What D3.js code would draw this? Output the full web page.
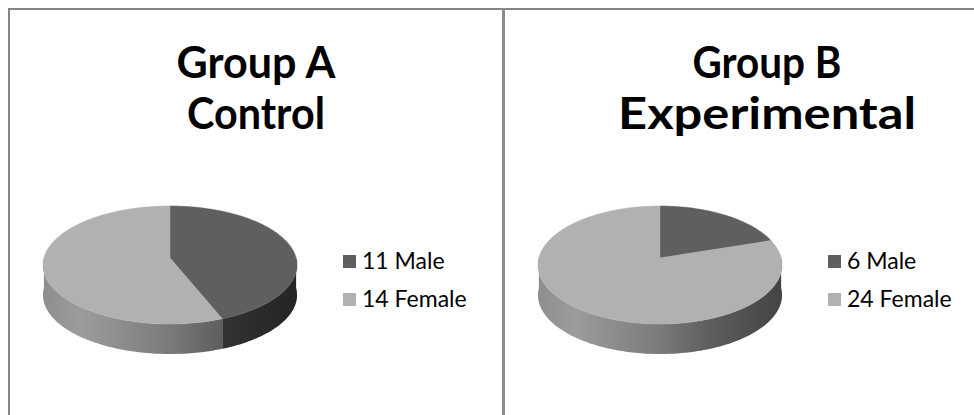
<!DOCTYPE html>
<html>
<head>
<meta charset="utf-8">
<script src="https://cdn.jsdelivr.net/npm/d3@7"></script>
<style>
  body { margin: 0; background: #fff; }
  text { font-family: Lato, "Open Sans", sans-serif; }
</style>
</head>
<body>
<svg id="chart" width="974" height="415"></svg>
<script>
const groupNames = ["Group A", "Group B"];
const groupTypes = ["Control", "Experimental"];
const categories = ["Male", "Female"];
const groupA = [11, 14];
const groupB = [6, 24];
const sliceColors = ["#5f5f5f", "#b1b1b1"];

const svg = d3.select("#chart");

// panel layout
const panels = [
    { values: groupA, titleX: 256, titleW: [159, 138], cx: 170, cy: 265, rx: 127, ry: 59, legendX: 343 },
    { values: groupB, titleX: 767, titleW: [149, 298], cx: 660, cy: 265, rx: 122, ry: 59, legendX: 828 }
];
const depth = 30;
const tilt = -0.12;

// cell borders
svg.append("rect").attr("x", 8).attr("y", 8).attr("width", 974).attr("height", 2).attr("fill", "#858585");
svg.append("rect").attr("x", 8).attr("y", 8).attr("width", 2).attr("height", 415).attr("fill", "#858585");
svg.append("rect").attr("x", 502).attr("y", 8).attr("width", 3).attr("height", 415).attr("fill", "#8c8c8c");

const color = d3.scaleOrdinal().domain(categories).range(sliceColors);
const pie = d3.pie().sort(null).startAngle(0).endAngle(2 * Math.PI);

// perspective-ish projection of a disc point (radius r, angle t clockwise from top)
const project = (p, r, t, dy) => {
    const u = r * Math.sin(t), v = -r * Math.cos(t);
    const d = 1 + tilt * v;
    return [
        p.cx + p.rx * u * Math.sqrt(1 - tilt * tilt) / d,
        p.cy + p.ry * (v + tilt) / d + dy
    ];
};

const rim = (p, a0, a1, dy) => {
    const n = Math.max(2, Math.ceil(Math.abs(a1 - a0) / 0.02));
    return d3.range(n + 1).map((i) => project(p, 1, a0 + (a1 - a0) * i / n, dy));
};

const line = d3.line();
const defs = svg.append("defs");

panels.forEach((p, gi) => {
    const g = svg.append("g");

    // title, two lines
    [groupNames[gi], groupTypes[gi]].forEach((t, li) => {
        g.append("text")
            .attr("x", p.titleX)
            .attr("y", 78 + li * 51)
            .attr("text-anchor", "middle")
            .attr("textLength", p.titleW[li])
            .attr("lengthAdjust", "spacingAndGlyphs")
            .style("font-weight", "bold")
            .style("font-size", "44px")
            .attr("fill", "#000")
            .text(t);
    });

    const arcs = pie(p.values);

    // side shading
    const gradId = "shade" + gi;
    const grad = defs.append("linearGradient")
        .attr("id", gradId)
        .attr("gradientUnits", "userSpaceOnUse")
        .attr("x1", p.cx - p.rx).attr("x2", p.cx + p.rx)
        .attr("y1", 0).attr("y2", 0);
    [[0, 0.2], [0.15, 0.12], [0.5, 0.31], [0.7, 0.47], [1, 0.62]].forEach((s) => {
        grad.append("stop").attr("offset", s[0]).attr("stop-color", "#000").attr("stop-opacity", s[1]);
    });

    // visible sides (front half only)
    arcs.forEach((a, i) => {
        const s = Math.max(a.startAngle, Math.PI / 2);
        const e = Math.min(a.endAngle, 3 * Math.PI / 2);
        if (e <= s) return;
        const pts = rim(p, s, e, 0).concat(rim(p, e, s, depth));
        const d = line(pts) + "Z";
        g.append("path").attr("d", d).attr("fill", color(categories[i]));
        g.append("path").attr("d", d).attr("fill", `url(#${gradId})`);
    });

    // top faces
    arcs.forEach((a, i) => {
        const pts = [project(p, 0, 0, 0)].concat(rim(p, a.startAngle, a.endAngle, 0));
        g.append("path")
            .attr("d", line(pts) + "Z")
            .attr("fill", color(categories[i]))
            .attr("stroke", color(categories[i]))
            .attr("stroke-width", 0.5);
    });

    // legend
    const legend = g.selectAll(".legend")
        .data(categories)
        .enter()
        .append("g")
        .attr("transform", (c, i) => `translate(${p.legendX}, ${255 + i * 38})`);
    legend.append("rect")
        .attr("width", 13).attr("height", 13)
        .attr("fill", (c) => color(c));
    legend.append("text")
        .attr("x", 19).attr("y", 14)
        .style("font-size", "23px")
        .attr("fill", "#000")
        .text((c, i) => `${p.values[i]} ${c}`);
});
</script>
</body>
</html>
